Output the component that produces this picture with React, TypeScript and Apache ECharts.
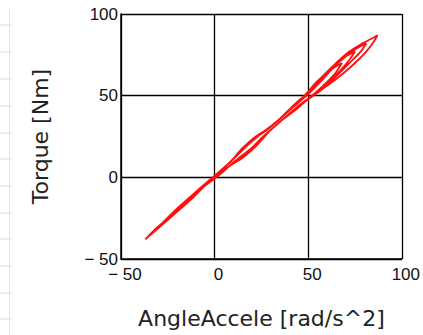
import React, { useEffect, useRef } from "react";
import * as echarts from "echarts";

const xTicks = [-50, 0, 50, 100];
const yTicks = [-50, 0, 50, 100];

const accel: number[] = [
  0, 8, 15, 22, 30, 40, 50, 57, 64, 72, 79, 84, 87,
  85, 81, 75, 68, 60, 54, 48, 40, 30, 22, 15, 8, 0,
  -8, -16, -24, -31, -37, -32, -24, -16, -8, 0,
  7, 14, 20, 28, 38, 48, 55, 62, 70, 76, 81,
  78, 72, 65, 58, 51, 44, 36, 26, 18, 10, 2,
  -6, -14, -22, -30, -34, -28, -20, -12, -4, 2,
  9, 17, 24, 32, 42, 50, 57, 64, 70, 75,
  72, 66, 59, 52, 45, 36, 27, 19, 11, 3,
  -5, -13, -21, -28, -31, -25, -17, -9, -2, 0,
  8, 16, 23, 33, 43, 52, 60, 68,
  64, 57, 49, 40, 31, 21, 12, 4,
  -5, -14, -22, -27, -20, -12, -4, 0,
];

const torque: number[] = [
  0, 9, 18, 25, 31, 41, 52, 61, 69, 77, 82, 85, 87,
  83, 77, 70, 63, 56, 51, 46, 39, 29, 19, 12, 7, 0,
  -8, -17, -25, -32, -38, -32, -24, -15, -7, 1,
  8, 16, 23, 29, 39, 50, 59, 66, 74, 79, 82,
  77, 70, 62, 55, 49, 42, 35, 25, 16, 9, 1,
  -6, -15, -23, -31, -35, -28, -19, -11, -3, 3,
  10, 19, 26, 33, 43, 51, 59, 68, 74, 77,
  72, 64, 57, 50, 44, 35, 26, 17, 10, 2,
  -5, -14, -22, -29, -32, -25, -16, -8, -1, 0,
  9, 18, 25, 34, 45, 54, 64, 70,
  63, 55, 47, 39, 30, 19, 11, 3,
  -5, -14, -23, -28, -20, -11, -3, 0,
];

const sheetRows = [25, 52, 79, 106, 133, 159, 186, 213, 239, 266, 293, 319];

const fmt = (v: number) => (v < 0 ? "\u2212 " + Math.abs(v) : String(v));

export default function App() {
  const ref = useRef<HTMLDivElement>(null);
  useEffect(() => {
    if (!ref.current) return;
    const chart = echarts.init(ref.current, undefined, { renderer: "svg" });
    const pts = accel.map((x, i) => [x, torque[i]]);
    const graphics: any[] = sheetRows.map((y) => ({
      type: "line",
      shape: { x1: 0, y1: y, x2: 12, y2: y },
      style: { stroke: "#dcdcdc", lineWidth: 1 },
      silent: true,
    }));
    graphics.push({
      type: "line",
      shape: { x1: 9.5, y1: 10, x2: 9.5, y2: 335 },
      style: { stroke: "#e4e4e4", lineWidth: 1 },
      silent: true,
    });
    chart.setOption({
      animation: false,
      backgroundColor: "#ffffff",
      graphic: graphics,
      grid: { left: 121, top: 14, right: 19, bottom: 76, containLabel: false },
      xAxis: {
        type: "value",
        min: xTicks[0],
        max: xTicks[xTicks.length - 1],
        interval: 50,
        name: "AngleAccele [rad/s^2]",
        nameLocation: "middle",
        nameGap: 48,
        nameTextStyle: { fontFamily: "DejaVu Sans", fontSize: 22, color: "#222" },
        axisLine: { onZero: false, lineStyle: { color: "#000", width: 1.5 } },
        axisTick: { show: false },
        axisLabel: {
          formatter: fmt,
          fontFamily: "Liberation Sans",
          fontSize: 17,
          color: "#111",
          margin: 7,
          padding: [0, 0, 0, 8],
        },
        splitLine: { show: true, lineStyle: { color: "#000", width: 1.3 } },
      },
      yAxis: {
        type: "value",
        min: yTicks[0],
        max: yTicks[yTicks.length - 1],
        interval: 50,
        name: "Torque [Nm]",
        nameLocation: "middle",
        nameGap: 70,
        nameTextStyle: { fontFamily: "DejaVu Sans", fontSize: 22, color: "#222" },
        axisLine: { onZero: false, lineStyle: { color: "#000", width: 1.5 } },
        axisTick: { show: false },
        axisLabel: {
          formatter: fmt,
          fontFamily: "Liberation Sans",
          fontSize: 17,
          color: "#111",
          margin: 3,
        },
        splitLine: { show: true, lineStyle: { color: "#000", width: 1.3 } },
      },
      series: [
        {
          type: "line",
          data: pts,
          showSymbol: false,
          smooth: 0.3,
          lineStyle: { color: "#ff1010", width: 1.8 },
        },
      ],
    });
    return () => chart.dispose();
  }, []);
  return (
    <div
      ref={ref}
      style={{ position: "fixed", left: 0, top: 0, width: 423, height: 335 }}
    />
  );
}
